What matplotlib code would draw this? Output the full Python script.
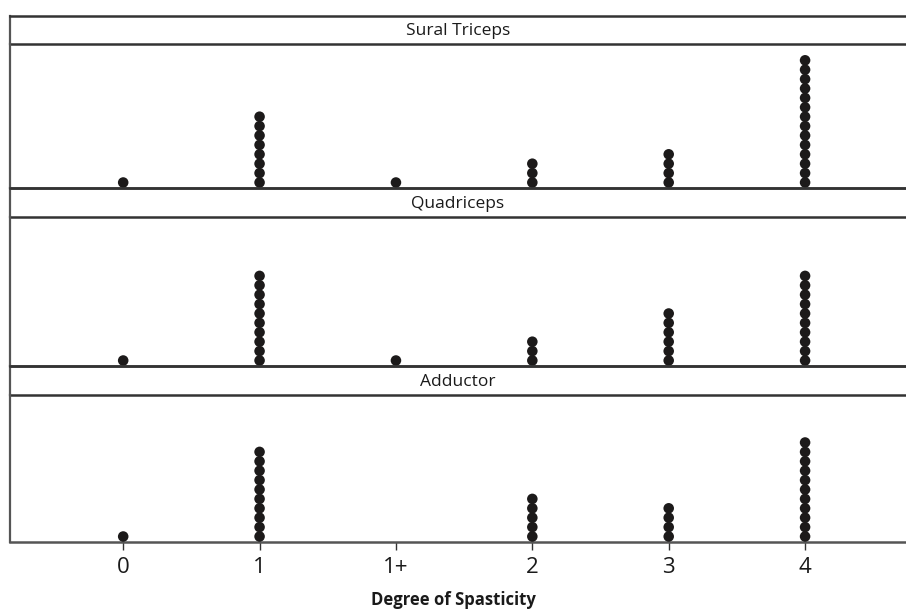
import matplotlib
matplotlib.use("Agg")
import matplotlib.pyplot as plt
from matplotlib import font_manager

categories = ["0", "1", "1+", "2", "3", "4"]
sural_triceps = [1, 8, 1, 3, 4, 14]
quadriceps = [1, 10, 1, 3, 6, 10]
adductor = [1, 10, 0, 5, 4, 11]
panel_titles = ["Sural Triceps", "Quadriceps", "Adductor"]
panel_counts = [sural_triceps, quadriceps, adductor]

names = {f.name for f in font_manager.fontManager.ttflist}
family = [f for f in ["Liberation Sans Narrow", "Open Sans", "DejaVu Sans"] if f in names]
plt.rcParams["font.family"] = family

W, H = 906, 611
fig = plt.figure(figsize=(W / 100, H / 100), dpi=100)

# pixel layout: (strip_top, strip_bottom, plot_bottom)
rows = [(16, 44, 188), (188, 217, 366), (366, 395, 542)]
left_px = 10
xlim = (-0.83, 5.74)
dot_step_px = 9.4

line_col = "#333333"
spine_col = "#555555"

for i, ((st, sb, pb), title, counts) in enumerate(zip(rows, panel_titles, panel_counts)):
    # strip header
    sax = fig.add_axes([left_px / W, 1 - sb / H, 1 - left_px / W, (sb - st) / H])
    sax.patch.set_visible(False)
    sax.set_xlim(0, 1)
    sax.set_ylim(0, 1)
    sax.set_xticks([])
    sax.set_yticks([])
    sax.spines["right"].set_visible(False)
    for s in ["top", "bottom"]:
        sax.spines[s].set_color(line_col)
        sax.spines[s].set_linewidth(1.8)
    sax.spines["left"].set_color(spine_col)
    sax.spines["left"].set_linewidth(1.6)
    sax.text(0.5, 0.45, title, ha="center", va="center", fontsize=12.5, color="#1a1a1a")

    # dot panel
    ax = fig.add_axes([left_px / W, 1 - pb / H, 1 - left_px / W, (pb - sb) / H])
    ax.patch.set_visible(False)
    height_px = pb - sb
    y0 = -5.5 / dot_step_px
    ax.set_ylim(y0, y0 + height_px / dot_step_px)
    ax.set_xlim(*xlim)
    xs, ys = [], []
    for xi, n in enumerate(counts):
        for k in range(n):
            xs.append(xi)
            ys.append(k)
    ax.scatter(xs, ys, s=7.6 ** 2, color="#1c1a1a", edgecolors="none", zorder=3, clip_on=False)
    ax.set_yticks([])
    ax.spines["right"].set_visible(False)
    ax.spines["top"].set_visible(False)
    ax.spines["left"].set_color(spine_col)
    ax.spines["left"].set_linewidth(1.6)
    ax.spines["bottom"].set_color(spine_col if i == 2 else line_col)
    ax.spines["bottom"].set_linewidth(1.8)
    if i == 2:
        ax.set_xticks(range(len(categories)))
        ax.set_xticklabels(categories, fontsize=16, color="#1a1a1a")
        ax.tick_params(axis="x", direction="out", length=6, width=1, color=line_col, pad=5)
        ax.set_xlabel("Degree of Spasticity", fontsize=12, fontweight="bold",
                      color="#1a1a1a", va="center")
        ax.xaxis.set_label_coords((453 - left_px) / (W - left_px), -(600 - 542) / height_px)
    else:
        ax.set_xticks([])

fig.savefig("out.png", dpi=100)
